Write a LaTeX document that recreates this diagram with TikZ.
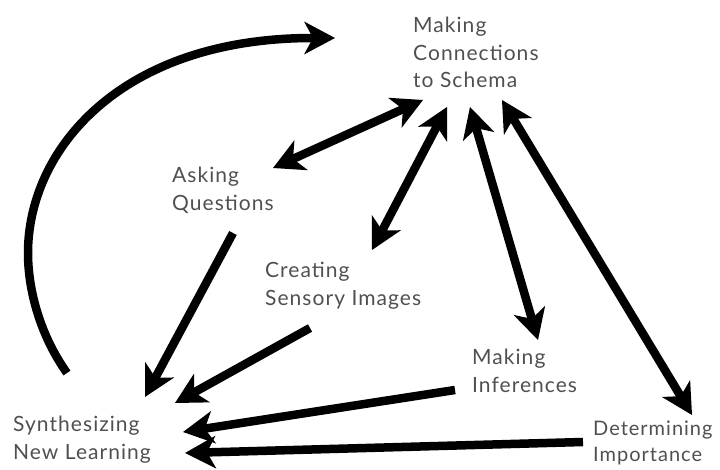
\documentclass[tikz,border=0pt]{standalone}
\usepackage{fontspec}
\setmainfont{Lato}[LetterSpace=5.0]
\usetikzlibrary{arrows.meta}
\definecolor{txtgray}{HTML}{505050}
\begin{document}
\begin{tikzpicture}[x=1pt,y=-1pt,
  lbl/.style={anchor=north west, inner sep=0pt, align=left, text=txtgray,
    font=\fontsize{21}{27.5}\selectfont},
  link/.style={line width=8.5pt, draw=black},
  >={Stealth[length=31pt,width=33pt,inset=9pt,line width=0pt]}]
\useasboundingbox[fill=white] (0,0) rectangle (720,470);
% labels
\node[lbl] (mc) at (413,17) {Making\\Connections\\to Schema};
\node[lbl] (aq) at (172,167) {Asking\\Questions};
\node[lbl] (cs) at (265,262) {Creating\\Sensory Images};
\node[lbl] (mi) at (472,349) {Making\\Inferences};
\node[lbl,font=\fontsize{20}{26}\selectfont] (di) at (593,421) {Determining\\Importance};
\node[lbl] (sn) at (13,416) {Synthesizing\\New Learning};
% endpoints
\coordinate (curveStart) at (67,373);
\coordinate (curveMid) at (28,253);
\coordinate (curveEnd) at (335,38);
\coordinate (mcA) at (423,100);
\coordinate (aqA) at (273,168);
\coordinate (mcC) at (447,107);
\coordinate (csA) at (372,250);
\coordinate (mcI) at (470,107);
\coordinate (miA) at (538,340);
\coordinate (mcD) at (502,100);
\coordinate (diA) at (692,415);
\coordinate (aqB) at (233,233);
\coordinate (snA) at (145,397);
\coordinate (csB) at (310,328);
\coordinate (snC) at (175,403);
\coordinate (miB) at (455,390);
\coordinate (snI) at (183,432);
\coordinate (diB) at (583,442);
\coordinate (snD) at (185,453);
% connectors
\draw[link,->] (curveStart) .. controls (40,335) and (28,290) .. (curveMid)
   .. controls (28,150) and (120,38) .. (curveEnd);
\draw[link,<->] (aqA) -- (mcA);
\draw[link,<->] (csA) -- (mcC);
\draw[link,<->] (miA) -- (mcI);
\draw[link,<->] (diA) -- (mcD);
\draw[link,->] (aqB) -- (snA);
\draw[link,->] (csB) -- (snC);
\draw[link,->] (miB) -- (snI);
\draw[link,->] (diB) -- (snD);
\end{tikzpicture}
\end{document}
